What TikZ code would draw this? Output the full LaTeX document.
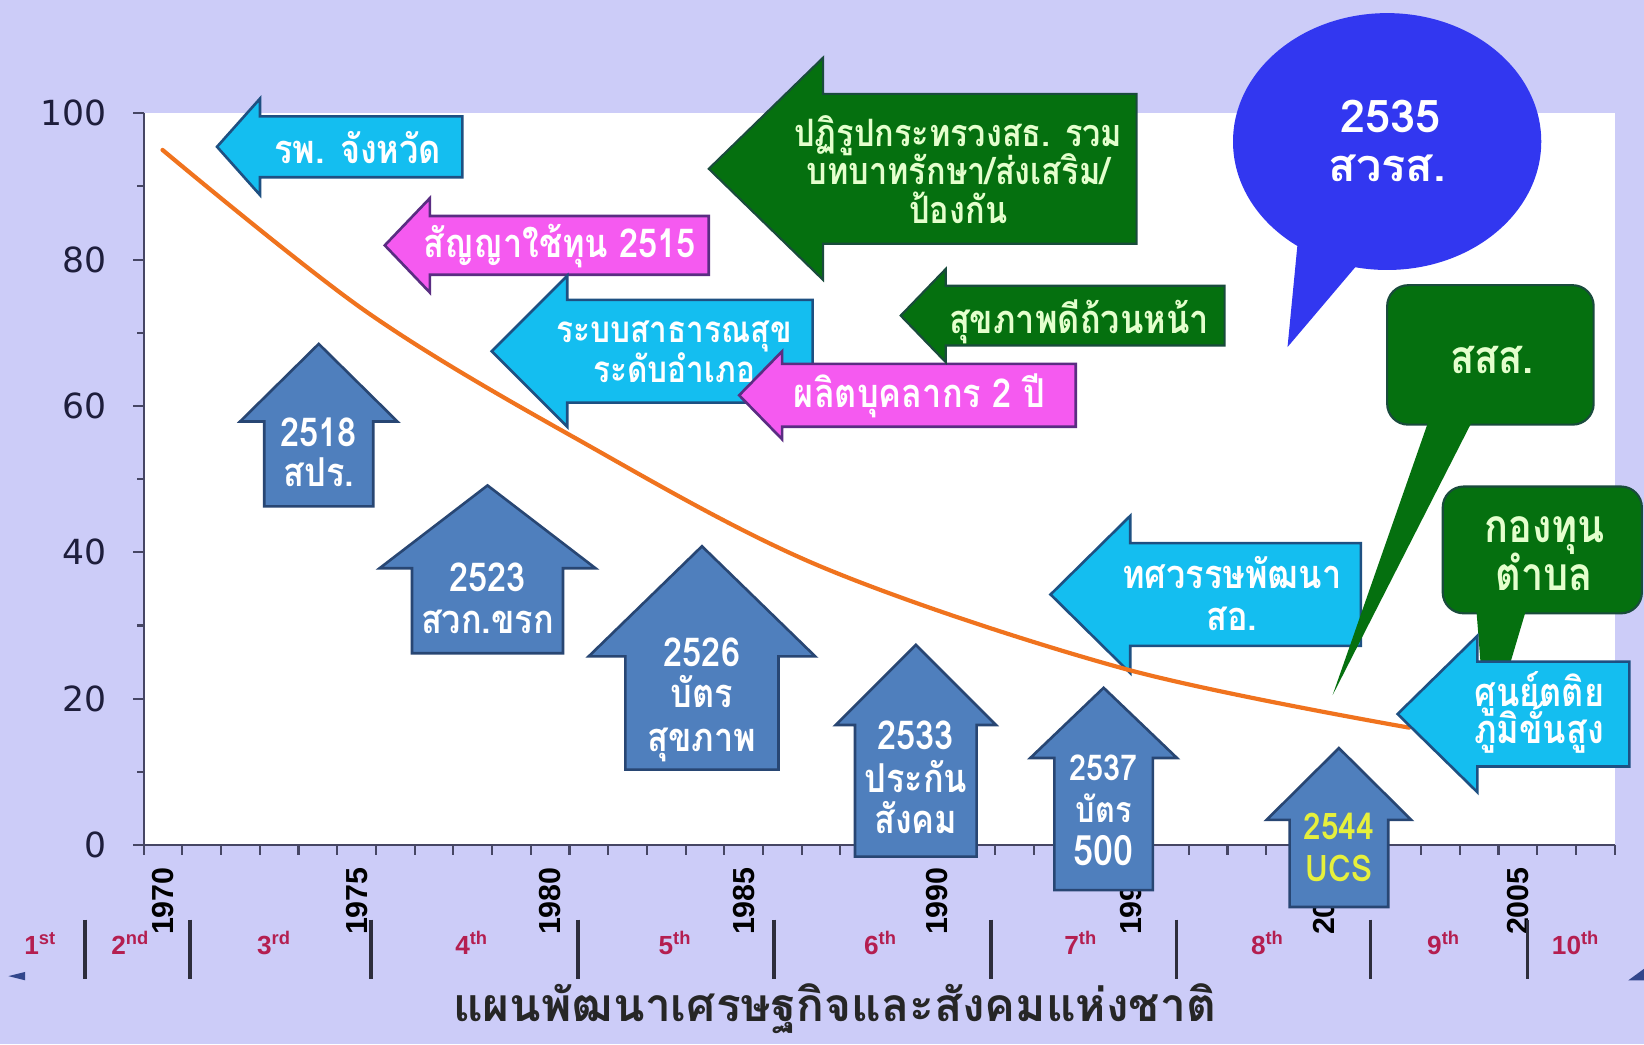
\documentclass[tikz,border=0pt]{standalone}
\usepackage{fontspec}
\setmainfont{Liberation Sans}
\newfontfamily\thaifont[Script=Thai,FakeStretch=0.86]{Loma}
\newfontfamily\thaiwide[Script=Thai]{Loma}
\newfontfamily\dejavu{DejaVu Sans}
\definecolor{bglav}{RGB}{204,204,248}
\definecolor{cyanf}{RGB}{20,190,240}
\definecolor{cyanb}{RGB}{30,80,130}
\definecolor{magf}{RGB}{245,90,240}
\definecolor{magb}{RGB}{90,45,130}
\definecolor{grnf}{RGB}{5,112,15}
\definecolor{grnb}{RGB}{25,75,60}
\definecolor{upf}{RGB}{79,127,189}
\definecolor{upb}{RGB}{40,70,115}
\definecolor{bubf}{RGB}{50,55,240}
\definecolor{curvec}{RGB}{240,115,30}
\definecolor{axisc}{RGB}{70,70,100}
\definecolor{ylabc}{RGB}{30,30,60}
\definecolor{plantc}{RGB}{180,30,80}
\definecolor{grntxt}{RGB}{228,255,205}
\definecolor{ucsy}{RGB}{230,240,60}
\definecolor{sepc}{RGB}{45,45,60}
\definecolor{edgec}{RGB}{50,70,140}
\newcommand{\LArr}[7]{\path[#1] (#2,#3) -- (#4,{#3-#5}) -- (#4,{#3-#6}) -- (#7,{#3-#6}) -- (#7,{#3+#6}) -- (#4,{#3+#6}) -- (#4,{#3+#5}) -- cycle;}
\newcommand{\UArr}[7]{\path[#1] (#2,#3) -- ({#2+#5},#4) -- ({#2+#6},#4) -- ({#2+#6},#7) -- ({#2-#6},#7) -- ({#2-#6},#4) -- ({#2-#5},#4) -- cycle;}
\tikzset{
  cyanarr/.style={fill=cyanf, draw=cyanb, line width=2.5pt, line join=miter},
  magarr/.style={fill=magf, draw=magb, line width=2.5pt, line join=miter},
  grnarr/.style={fill=grnf, draw=grnb, line width=2pt, line join=miter},
  uparr/.style={fill=upf, draw=upb, line width=2.5pt, line join=miter},
  lab/.style={inner sep=0pt, anchor=base},
  fs/.style={font=\thaifont\bfseries\fontsize{#1}{#1}\selectfont},
  wtxt/.style={lab, text=white, fs=38},
  gtxt/.style={lab, text=grntxt, fs=38},
  gbig/.style={lab, text=grntxt, fs=44},
  gsmall/.style={lab, text=grntxt, fs=36},
  utxt/.style={lab, text=white, fs=38},
  ytxt/.style={lab, text=ucsy, fs=35},
  bubtxt/.style={lab, text=white, font=\thaiwide\bfseries\fontsize{43}{43}\selectfont},
  ylab/.style={inner sep=0pt, anchor=east, text=ylabc, font=\dejavu\fontsize{33}{33}\selectfont},
  yearlab/.style={inner sep=0pt, anchor=east, rotate=90, text=black, font=\bfseries\fontsize{29}{29}\selectfont},
  planlab/.style={inner sep=0pt, anchor=base west, text=plantc, font=\bfseries\fontsize{25}{25}\selectfont},
  sepline/.style={draw=sepc, line width=3.5pt},
  axis/.style={draw=axisc, line width=2pt},
  titlelab/.style={inner sep=0pt, anchor=base, text=black!85, font=\thaiwide\bfseries\fontsize{44}{44}\selectfont}
}
\begin{document}
\begin{tikzpicture}[x=1pt,y=-1pt]
\useasboundingbox (0,0) rectangle (1568,996);
\fill[bglav] (0,0) rectangle (1568,996);
% plot area
\fill[white] (137,108) rectangle (1540,806);
\draw[axis] (137,108) -- (137,806) -- (1540,806);
\foreach \v in {0,20,...,100} {
  \draw[axis] (137,{806-6.98*\v}) -- ++(-10,0);
  \node[ylab] (v\v) at (102,{806-6.98*\v}) {\v};
}
\foreach \v in {10,30,...,90} \draw[axis] (137,{806-6.98*\v}) -- ++(-6,0);
\foreach \k in {0,...,38} \draw[axis] ({137+36.92*\k},806) -- ++(0,9);
\foreach \yr [count=\i from 0] in {1970,1975,...,2005}
  \node[yearlab] (y\yr) at ({137+36.92*(5*\i+0.5)},827) {\yr};
% plan separators
\foreach \sx in {81,181,354,551,738,945,1122,1307,1457}
  \draw[sepline] (\sx,877) -- (\sx,934);
\node[planlab] (p1) at (23,910) {1\textsuperscript{st}};
\node[planlab] (p2) at (106,910) {2\textsuperscript{nd}};
\node[planlab] (p3) at (245,910) {3\textsuperscript{rd}};
\node[planlab] (p4) at (434,910) {4\textsuperscript{th}};
\node[planlab] (p5) at (628,910) {5\textsuperscript{th}};
\node[planlab] (p6) at (824,910) {6\textsuperscript{th}};
\node[planlab] (p7) at (1015,910) {7\textsuperscript{th}};
\node[planlab] (p8) at (1193,910) {8\textsuperscript{th}};
\node[planlab] (p9) at (1361,910) {9\textsuperscript{th}};
\node[planlab] (p10) at (1480,910) {10\textsuperscript{th}};
\fill[edgec] (8,931) -- (24,927) -- (24,935) -- cycle;
\fill[edgec] (1553,935) -- (1568,924) -- (1568,935) -- cycle;
\node[titlelab] (title) at (796,974) {แผนพัฒนาเศรษฐกิจและสังคมแห่งชาติ};
% left arrows
\LArr{cyanarr}{207}{140}{248}{46}{29}{441}
\node[wtxt] (a1) at (341,156) {รพ. จังหวัด};
\LArr{magarr}{367}{234}{410}{45}{28}{676}
\node[wtxt] (a2) at (534,246) {สัญญาใช้ทุน 2515};
\LArr{cyanarr}{469}{335}{541}{72}{49}{775}
\node[wtxt, fs=35] (a3a) at (643,327) {ระบบสาธารณสุข};
\node[wtxt, fs=35] (a3b) at (643,365) {ระดับอำเภอ};
\LArr{magarr}{705}{377}{746}{42}{30}{1026}
\node[wtxt] (a4) at (877,389) {ผลิตบุคลากร 2 ปี};
\LArr{grnarr}{676}{161}{785}{106}{71.5}{1084}
\node[gsmall] (a5a) at (914,140) {ปฏิรูปกระทรวงสธ. รวม};
\node[gsmall] (a5b) at (914,176) {บทบาทรักษา/ส่งเสริม/};
\node[gsmall] (a5c) at (914,213) {ป้องกัน};
\LArr{grnarr}{859}{301}{902}{44.5}{28.5}{1168}
\node[gtxt] (a6) at (1029,318) {สุขภาพดีถ้วนหน้า};
\LArr{cyanarr}{1002}{567}{1078}{75}{49}{1298}
\node[wtxt] (a7a) at (1175,561) {ทศวรรษพัฒนา};
\node[wtxt] (a7b) at (1175,601) {สอ.};
% curve
\draw[curvec, line width=4pt, line cap=round] plot[smooth, tension=0.55] coordinates {(155,143) (349,297) (549,418) (782,540) (1073,638) (1344,694)};
% up arrows
\UArr{uparr}{304}{328}{402}{75}{52}{483}
\node[utxt] (u1a) at (304,426) {2518};
\node[utxt] (u1b) at (304,464) {สปร.};
\UArr{uparr}{465}{463}{542}{103}{72}{623}
\node[utxt] (u2a) at (465,564) {2523};
\node[utxt] (u2b) at (465,604) {สวก.ขรก};
\UArr{uparr}{669.5}{521}{626}{108}{73}{734}
\node[utxt] (u3a) at (669.5,636) {2526};
\node[utxt] (u3b) at (669.5,675) {บัตร};
\node[utxt] (u3c) at (669.5,717) {สุขภาพ};
\UArr{uparr}{873.5}{615}{691.5}{76.5}{58}{817}
\node[utxt] (u4a) at (873.5,715) {2533};
\node[utxt] (u4b) at (873.5,756) {ประกัน};
\node[utxt] (u4c) at (873.5,795) {สังคม};
\UArr{uparr}{1052.6}{656}{723}{70}{47}{849}
\node[lab, text=white, fs=34] (u5a) at (1052.6,744) {2537};
\node[lab, text=white, fs=34] (u5b) at (1052.6,784) {บัตร};
\node[lab, text=white, fs=40] (u5c) at (1052.6,825) {500};
\UArr{uparr}{1277}{713.5}{782}{69}{47}{865}
\node[ytxt] (u6a) at (1277,801) {2544};
\node[ytxt] (u6b) at (1277,841) {UCS};
% bubble 2535
\fill[bubf] (1323,135) ellipse [x radius=147, y radius=122.5];
\fill[bubf] (1238,228) -- (1295,252) -- (1228,331) -- cycle;
\node[bubtxt] (b1a) at (1326,126) {2535};
\node[bubtxt] (b1b) at (1323,173) {สวรส.};
% callout กองทุน ตำบล
\draw[grnarr, rounded corners=20] (1376,464) rectangle (1566,585);
\fill[grnf] (1408,580) -- (1456,580) -- (1418,708) -- cycle;
\node[gbig] (c2a) at (1473,517) {กองทุน};
\node[gbig] (c2b) at (1473,563) {ตำบล};
% arrow ศูนย์ตติยภูมิ
\LArr{cyanarr}{1333}{681}{1409}{74.5}{50}{1554}
\node[wtxt] (a8a) at (1468,674) {ศูนย์ตติย};
\node[wtxt] (a8b) at (1468,709) {ภูมิขั้นสูง};
% callout สสส.
\draw[grnarr, rounded corners=20] (1323,272) rectangle (1520,405);
\fill[grnf] (1363,400) -- (1405,400) -- (1271,663) -- cycle;
\node[gbig] (c1) at (1423,356) {สสส.};
\end{tikzpicture}
\end{document}
